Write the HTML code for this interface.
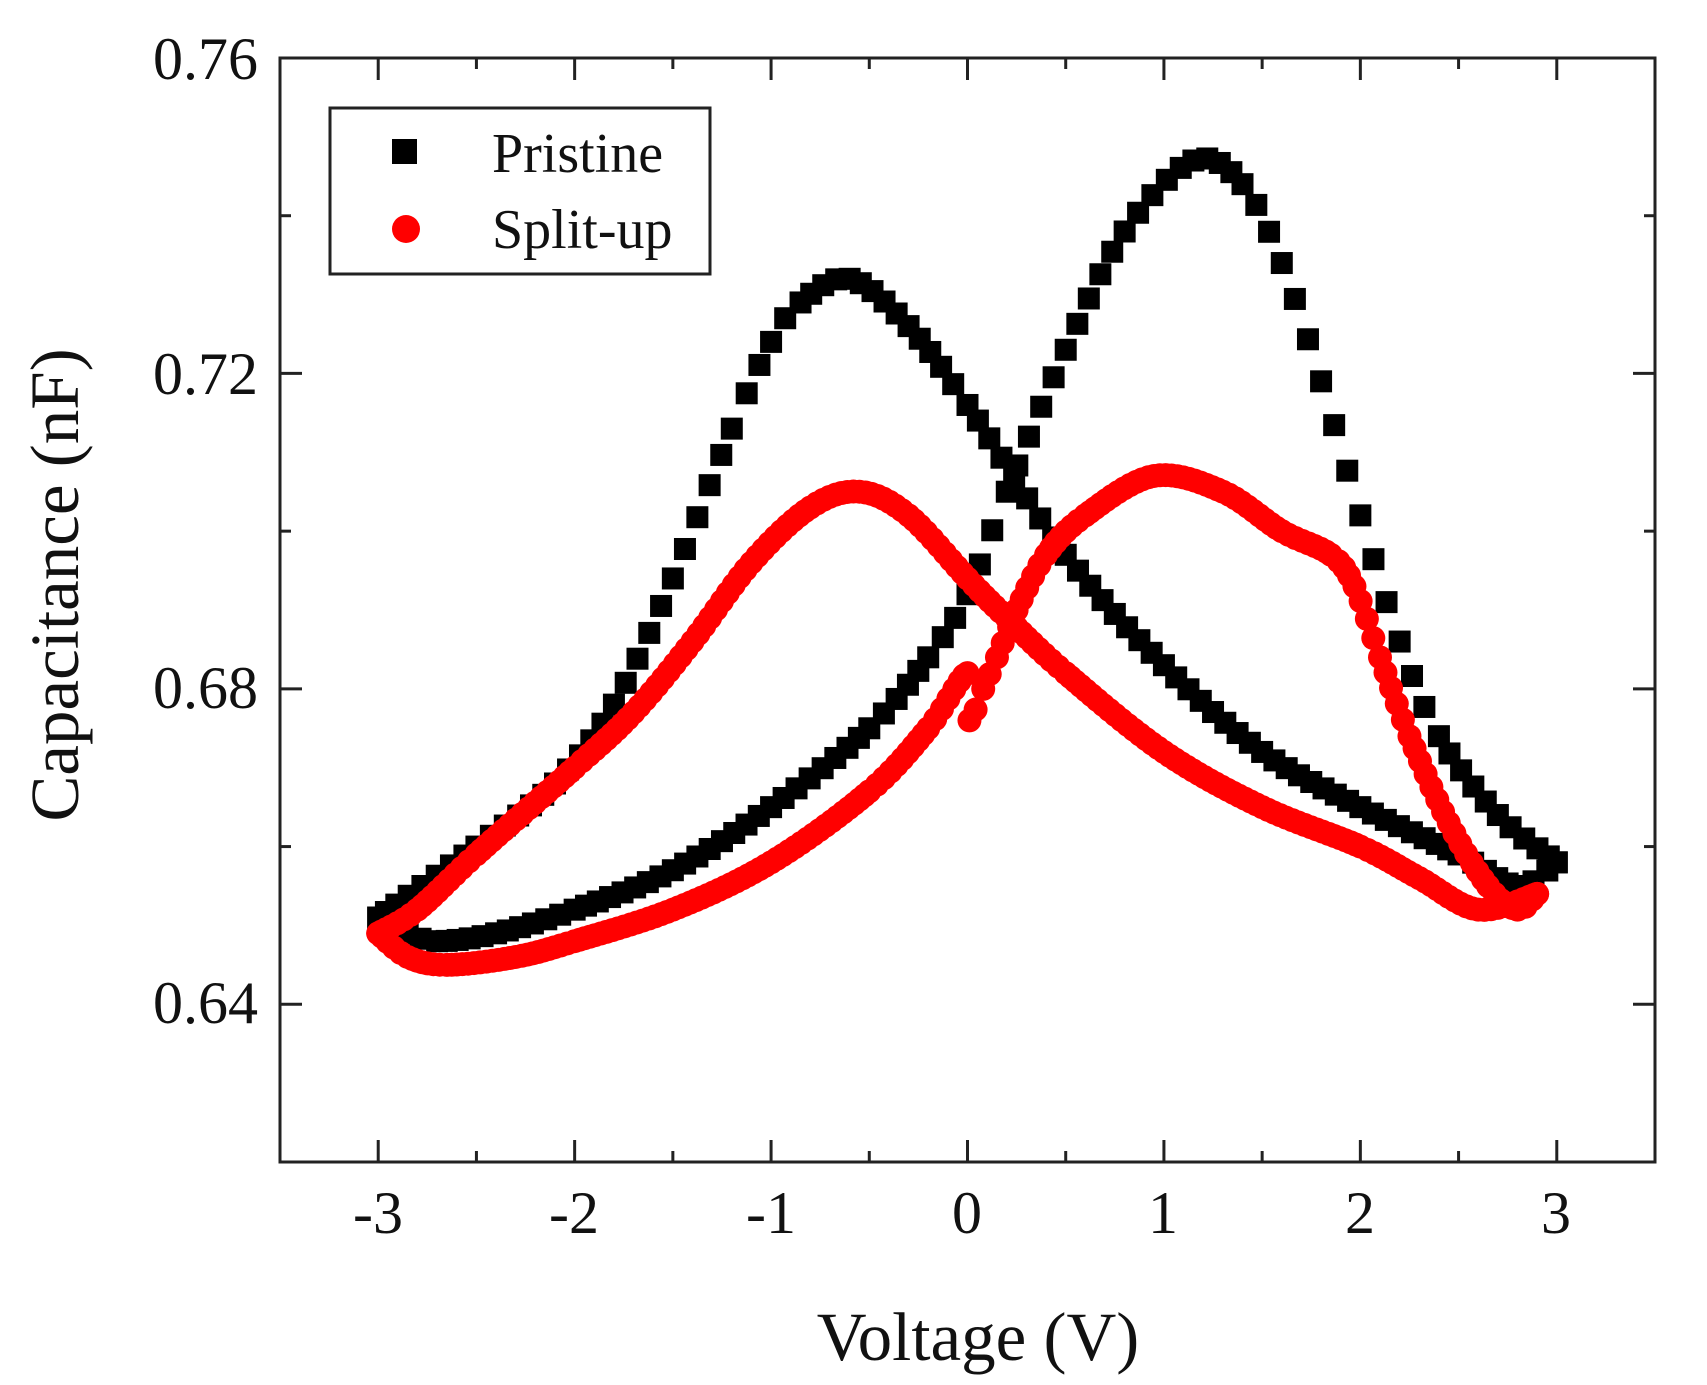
<!DOCTYPE html>
<html><head><meta charset="utf-8"><style>
html,body{margin:0;padding:0;background:#fff;}
svg{display:block;}
text{font-family:"Liberation Serif",serif;fill:#111;}
</style></head><body>
<svg id="s" width="1707" height="1385" viewBox="0 0 1707 1385" xmlns="http://www.w3.org/2000/svg">
<g id="data"></g>
<rect x="280" y="58" width="1375" height="1104" fill="none" stroke="#222" stroke-width="3"/>
<g id="ticks" stroke="#222" stroke-width="3"></g>
<g font-size="60" text-anchor="end">
<text x="258" y="79">0.76</text>
<text x="258" y="394">0.72</text>
<text x="258" y="708">0.68</text>
<text x="258" y="1023">0.64</text>
</g>
<g font-size="60" text-anchor="middle">
<text x="378" y="1233">-3</text>
<text x="574" y="1233">-2</text>
<text x="771" y="1233">-1</text>
<text x="967" y="1233">0</text>
<text x="1163" y="1233">1</text>
<text x="1360" y="1233">2</text>
<text x="1556" y="1233">3</text>
</g>
<text x="978" y="1360" font-size="69" text-anchor="middle">Voltage (V)</text>
<text transform="translate(78,585) rotate(-90)" font-size="69" text-anchor="middle">Capacitance (nF)</text>
<rect x="330" y="108" width="380" height="166" fill="#fff" stroke="#222" stroke-width="3"/>
<rect x="392" y="139" width="25" height="25" fill="#000"/>
<circle cx="406" cy="229" r="14" fill="#f00"/>
<text x="492" y="172" font-size="56">Pristine</text>
<text x="492" y="248" font-size="56">Split-up</text>
</svg>
<script>
var X=function(v){return 280+(v+3.5)*1375/7;};
var Y=function(c){return 1162-(c-0.62)*1104/0.14;};
var tk=document.getElementById('ticks'),h='';
for(var v=-3;v<=3.01;v+=0.5){var maj=Math.abs(v-Math.round(v))<0.01;var L=maj?22:11;var x=X(v);
h+='<line x1="'+x+'" y1="1162" x2="'+x+'" y2="'+(1162-L)+'"/><line x1="'+x+'" y1="58" x2="'+x+'" y2="'+(58+L)+'"/>';}
for(var i=0;i<=7;i++){var c=0.62+i*0.02;var maj=(i%2==1);var L=maj?22:11;var y=Y(c);
h+='<line x1="280" y1="'+y+'" x2="'+(280+L)+'" y2="'+y+'"/><line x1="1655" y1="'+y+'" x2="'+(1655-L)+'" y2="'+y+'"/>';}
tk.innerHTML=h;
function cr(p0,p1,p2,p3,t){var t2=t*t,t3=t2*t;return 0.5*((2*p1)+(-p0+p2)*t+(2*p0-5*p1+4*p2-p3)*t2+(-p0+3*p1-3*p2+p3)*t3);}
function sample(pts,step){var out=[];for(var i=0;i<pts.length-1;i++){var p0=pts[Math.max(0,i-1)],p1=pts[i],p2=pts[i+1],p3=pts[Math.min(pts.length-1,i+2)];
var k=Math.max(1,Math.round(Math.abs(p2[0]-p1[0])/step));
for(var j=0;j<k;j++){var t=j/k;out.push([cr(p0[0],p1[0],p2[0],p3[0],t),cr(p0[1],p1[1],p2[1],p3[1],t)]);}}
out.push(pts[pts.length-1]);return out;}
var pl=[[-3,0.651],[-2.85,0.649],[-2.7,0.648],[-2.4,0.649],[-2,0.652],[-1.5,0.657],[-1,0.665],[-0.5,0.675],[-0.2,0.684],[0,0.692],[0.2,0.705],[0.5,0.723],[0.8,0.738],[1.15,0.747],[1.4,0.744],[1.6,0.734],[1.8,0.719],[2.0,0.702],[2.2,0.686],[2.4,0.674],[2.7,0.664],[3.0,0.658]];
var pu=[[3.0,0.658],[2.8,0.655],[2.5,0.659],[2,0.665],[1.5,0.672],[1,0.683],[0.5,0.697],[0,0.716],[-0.3,0.726],[-0.6,0.732],[-0.85,0.729],[-1.0,0.724],[-1.2,0.713],[-1.5,0.694],[-1.8,0.678],[-2.1,0.668],[-2.5,0.660],[-3,0.651]];
var rl=[[-3,0.649],[-2.85,0.646],[-2.65,0.645],[-2.3,0.646],[-2,0.648],[-1.5,0.652],[-1,0.658],[-0.5,0.667],[-0.2,0.675],[0,0.682],[0.01,0.676],[0.08,0.680],[0.15,0.684],[0.25,0.690],[0.4,0.697],[0.6,0.702],[0.95,0.707],[1.3,0.705],[1.6,0.700],[1.85,0.697],[1.97,0.693],[2.1,0.684],[2.25,0.674],[2.45,0.663],[2.65,0.655],[2.8,0.652],[2.9,0.654]];
var ru=[[2.9,0.654],[2.6,0.652],[2.3,0.656],[2,0.660],[1.5,0.665],[1,0.672],[0.5,0.682],[0.2,0.689],[0,0.694],[-0.3,0.702],[-0.55,0.705],[-0.8,0.703],[-1.1,0.696],[-1.4,0.686],[-1.7,0.677],[-2,0.670],[-2.5,0.659],[-2.8,0.652],[-3,0.649]];
var g='';
[pl,pu].forEach(function(b){sample(b,0.065).forEach(function(p){g+='<rect x="'+(X(p[0])-11)+'" y="'+(Y(p[1])-11)+'" width="22" height="22" fill="#000"/>';});});
[rl,ru].forEach(function(b){sample(b,0.03).forEach(function(p){g+='<circle cx="'+X(p[0])+'" cy="'+Y(p[1])+'" r="12" fill="#f00"/>';});});
document.getElementById('data').innerHTML=g;
</script>
</body></html>
